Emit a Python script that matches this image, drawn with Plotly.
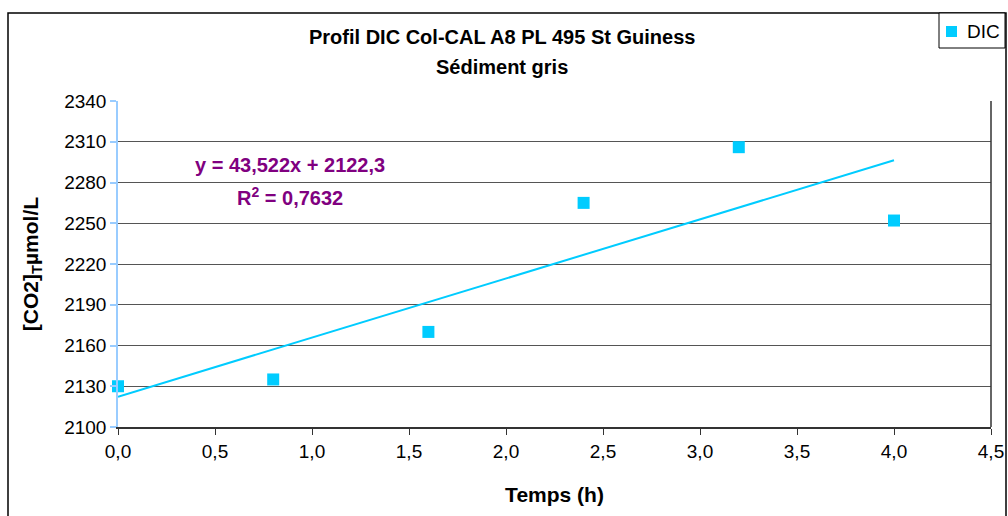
import plotly.graph_objects as go

# DIC measurements over time
temps_h = [0.0, 0.8, 1.6, 2.4, 3.2, 4.0]
dic_umol = [2130, 2135, 2170, 2265, 2306, 2252]

# Linear trend (coefficients as reported on the chart)
slope = 43.522
intercept = 2122.3
r2 = 0.7632

x_ticks = [0.0, 0.5, 1.0, 1.5, 2.0, 2.5, 3.0, 3.5, 4.0, 4.5]
y_ticks = [2100, 2130, 2160, 2190, 2220, 2250, 2280, 2310, 2340]

W, H = 1008, 516
ML, MR, MT, MB = 118, 17, 101, 89
PW, PH = W - ML - MR, H - MT - MB

def px_to_paper(px, py):
    return (px - ML) / PW, (H - MB - py) / PH

FONT = "Liberation Sans, Arial, sans-serif"
CYAN = "#00CCFF"
PURPLE = "#800080"

trend_x = [min(temps_h), max(temps_h)]
trend_y = [slope * v + intercept for v in trend_x]

fig = go.Figure()
fig.add_trace(go.Scatter(
    x=trend_x, y=trend_y, mode="lines",
    line=dict(color=CYAN, width=2), showlegend=False, hoverinfo="skip"))
fig.add_trace(go.Scatter(
    x=temps_h, y=dic_umol, mode="markers", name="DIC", showlegend=False,
    cliponaxis=False,
    marker=dict(symbol="square", size=12, color=CYAN, line=dict(width=0))))

def fmt(v, nd):
    return f"{v:.{nd}f}".replace(".", ",")

fx0, fy0 = px_to_paper(8, 13)
fx1, fy1 = px_to_paper(1006, 522)
lx0, ly0 = px_to_paper(939, 13)
lx1, ly1 = px_to_paper(1005, 48)
mx0, my0 = px_to_paper(946, 26)
mx1, my1 = px_to_paper(957, 37)
shapes = [
    # outer chart frame
    dict(type="rect", xref="paper", yref="paper", x0=fx0, y0=fy1, x1=fx1, y1=fy0,
         line=dict(color="#000000", width=1.5), fillcolor="rgba(0,0,0,0)"),
    # right edge of plot area
    dict(type="line", xref="paper", yref="paper", x0=1, x1=1, y0=0, y1=1,
         line=dict(color="#333333", width=1.5)),
    # legend box and its marker key
    dict(type="rect", xref="paper", yref="paper", x0=lx0, y0=ly1, x1=lx1, y1=ly0,
         line=dict(color="#000000", width=1), fillcolor="#FFFFFF"),
    dict(type="rect", xref="paper", yref="paper", x0=mx0, y0=my1, x1=mx1, y1=my0,
         line=dict(width=0), fillcolor=CYAN),
]

annotations = []
def add_text(px, py, text, size, color="#000000", anchor="center"):
    ax, ay = px_to_paper(px, py)
    annotations.append(dict(xref="paper", yref="paper", x=ax, y=ay, showarrow=False,
                            text=text, font=dict(family=FONT, size=size, color=color),
                            xanchor=anchor, yanchor="middle"))

add_text(502, 37, "<b>Profil DIC Col-CAL A8 PL 495 St Guiness</b>", 20)
add_text(502, 67, "<b>Sédiment gris</b>", 20)
add_text(290, 165, f"<b>y = {fmt(slope, 3)}x + {fmt(intercept, 1)}</b>", 20, PURPLE)
add_text(290, 196, f"<b>R<sup>2</sup> = {fmt(r2, 4)}</b>", 20, PURPLE)
add_text(965, 32, "DIC", 19, anchor="left")

fig.update_layout(
    width=W, height=H,
    margin=dict(l=ML, r=MR, t=MT, b=MB, pad=0, autoexpand=False),
    paper_bgcolor="#FFFFFF", plot_bgcolor="#FFFFFF",
    font=dict(family=FONT, size=19, color="#000000"),
    shapes=shapes, annotations=annotations,
    showlegend=False,
    xaxis=dict(
        range=[0, 4.5], tickvals=x_ticks,
        ticktext=[fmt(v, 1) for v in x_ticks],
        showgrid=False, zeroline=False,
        showline=True, linecolor="#333333", linewidth=2,
        ticks="outside", ticklen=6, tickcolor="#333333", tickwidth=1,
        tickfont=dict(family=FONT, size=19),
        title=dict(text="<b>Temps (h)</b>", font=dict(family=FONT, size=21), standoff=27)),
    yaxis=dict(
        range=[2100, 2340], tickvals=y_ticks,
        showgrid=True, gridcolor="#555555", gridwidth=1,
        zeroline=False,
        showline=True, linecolor="#99CCFF", linewidth=1.5,
        ticks="outside", ticklen=6, tickcolor="#99CCFF", tickwidth=1.5,
        tickfont=dict(family=FONT, size=19),
        title=dict(text="<b>[CO2]<sub>T</sub>µmol/L</b>", font=dict(family=FONT, size=21), standoff=20)),
)

fig.write_html("out.html")
